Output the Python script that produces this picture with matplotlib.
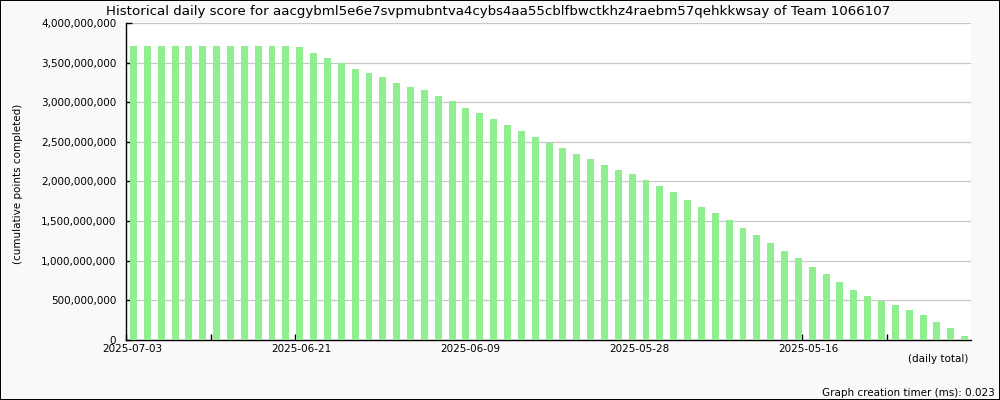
import numpy as np
import matplotlib
matplotlib.use('Agg')
import matplotlib.pyplot as plt
from matplotlib.ticker import FuncFormatter

# cumulative points, billions, newest day first
scores = [3.71, 3.71, 3.71, 3.71, 3.71, 3.71, 3.71, 3.71, 3.71, 3.71,
          3.71, 3.71, 3.70, 3.62, 3.56, 3.49, 3.42, 3.37, 3.32, 3.24,
          3.19, 3.15, 3.08, 3.02, 2.93, 2.86, 2.79, 2.71, 2.64, 2.56,
          2.49, 2.42, 2.35, 2.28, 2.21, 2.15, 2.09, 2.02, 1.94, 1.87,
          1.77, 1.68, 1.60, 1.51, 1.41, 1.32, 1.22, 1.12, 1.03, 0.92,
          0.83, 0.73, 0.63, 0.555, 0.49, 0.44, 0.38, 0.315, 0.227, 0.15,
          0.05]
date_labels = ['2025-07-03', '', '2025-06-21', '', '2025-06-09', '',
               '2025-05-28', '', '2025-05-16', '']
y_ticks = [0, 0.5, 1.0, 1.5, 2.0, 2.5, 3.0, 3.5, 4.0]

title = ('Historical daily score for '
         'aacgybml5e6e7svpmubntva4cybs4aa55cblfbwctkhz4raebm57qehkkwsay '
         'of Team 1066107')

fig = plt.figure(figsize=(10, 4), dpi=100)
fig.patch.set_facecolor('#f9f9f9')
fig.patch.set_edgecolor('black')
fig.patch.set_linewidth(1.2)

ax = fig.add_axes([0.126, 0.15, 0.845, 0.7925])
ax.set_facecolor('white')

x = np.arange(len(scores))
vals = np.array(scores) * 1e9
ax.bar(x, vals, width=0.5, color='#90ee90', zorder=3)

x0, x1 = -0.54, len(scores) - 0.54
ax.set_xlim(x0, x1)
ax.set_ylim(0, 4e9)

ax.set_yticks(np.array(y_ticks) * 1e9)
ax.yaxis.set_major_formatter(FuncFormatter(lambda v, p: '{:,.0f}'.format(v)))
ax.grid(axis='y', color='#c8c8c8', linewidth=0.9, zorder=0)
ax.set_axisbelow(True)

# tick marks split the axis in 10; the date labels sit a few px right of them
tick_pos = np.linspace(x0, x1, 11)[:-1]
shift = 6 / 845 * (x1 - x0)
ax.set_xticks(tick_pos)
ax.set_xticklabels([''] * len(tick_pos))
ax.set_xticks(tick_pos + shift, minor=True)
ax.set_xticklabels(date_labels, minor=True)

ax.tick_params(axis='both', direction='in', length=4, width=1,
               labelsize=7.5, colors='black')
ax.tick_params(axis='y', pad=7)
ax.tick_params(axis='x', which='minor', length=0, pad=3, labelsize=7.5)

for s in ['top', 'right']:
    ax.spines[s].set_visible(False)
for s in ['left', 'bottom']:
    ax.spines[s].set_color('black')
    ax.spines[s].set_linewidth(1)

fig.text(0.4985, 0.972, title, ha='center', va='center', fontsize=9.65)
fig.text(0.018, 0.54, '(cumulative points completed)', rotation=90,
         ha='center', va='center', fontsize=7.5)
fig.text(0.968, 0.1025, '(daily total)', ha='right', va='center', fontsize=7.5)
fig.text(0.995, 0.0175, 'Graph creation timer (ms): 0.023', ha='right',
         va='center', fontsize=7.5)

fig.savefig('out.png', dpi=100, facecolor=fig.get_facecolor(),
            edgecolor=fig.get_edgecolor())
